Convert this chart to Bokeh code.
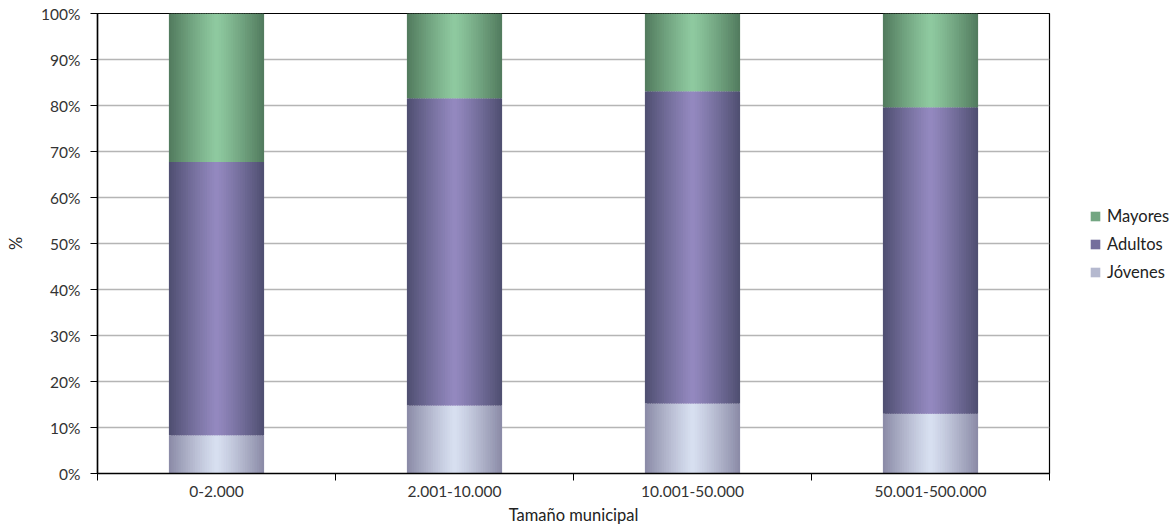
from bokeh.plotting import figure
from bokeh.layouts import row
from bokeh.models import (ColumnDataSource, FixedTicker, PrintfTickFormatter, Legend, LegendItem, Range1d)
from bokeh.embed import file_html
from bokeh.resources import INLINE

categories = ["0-2.000", "2.001-10.000", "10.001-50.000", "50.001-500.000"]
series_names = ["Jóvenes", "Adultos", "Mayores"]
jovenes = [8.3, 14.8, 15.2, 13.0]
adultos = [59.4, 66.8, 67.9, 66.6]
mayores = [32.3, 18.4, 16.9, 20.4]
y_ticks = [0, 10, 20, 30, 40, 50, 60, 70, 80, 90, 100]

FONT = "Lato"

# gradient colours: (edge, centre)
grad = {
    "Jóvenes": ("#8a8aa6", "#d8e0f1"),
    "Adultos": ("#4e4e70", "#9489c0"),
    "Mayores": ("#517a5d", "#8fcaa0"),
}

def hex2rgb(h):
    h = h.lstrip("#")
    return [int(h[i:i + 2], 16) for i in (0, 2, 4)]

def mix(a, b, s):
    ca, cb = hex2rgb(a), hex2rgb(b)
    return "#%02x%02x%02x" % tuple(int(round(ca[k] + (cb[k] - ca[k]) * s)) for k in range(3))

p = figure(frame_width=952, frame_height=460, output_backend="svg", toolbar_location=None,
           x_range=Range1d(-0.5, 3.5), y_range=Range1d(0, 100),
           min_border_left=97, min_border_top=13, min_border_bottom=58, min_border_right=2)

bar_w = 0.4
N = 40
step = bar_w / N
xs = list(range(len(categories)))

data = {"Jóvenes": jovenes, "Adultos": adultos, "Mayores": mayores}
bottoms = [0.0] * len(categories)
for name in series_names:
    vals = data[name]
    tops = [b + v for b, v in zip(bottoms, vals)]
    sx, sw, sb, st, sc = [], [], [], [], []
    edge, centre = grad[name]
    for ci, xc in enumerate(xs):
        left = xc - bar_w / 2
        for i in range(N):
            t = (i + 0.5) / N
            s = 1 - abs(2 * t - 1) ** 1.15
            l = left + i * step
            r = l + step + (step * 0.6 if i < N - 1 else 0)
            sx.append((l + r) / 2)
            sw.append(r - l)
            sb.append(bottoms[ci])
            st.append(tops[ci])
            sc.append(mix(edge, centre, s))
    src = ColumnDataSource(dict(x=sx, w=sw, b=sb, t=st, c=sc))
    p.vbar(x="x", width="w", bottom="b", top="t", fill_color="c", line_color=None, source=src)
    bottoms = tops

# axes
p.xaxis.ticker = FixedTicker(ticks=xs, minor_ticks=[-0.5, 0.5, 1.5, 2.5, 3.5])
p.xaxis.major_label_overrides = {i: c for i, c in enumerate(categories)}
p.xaxis.major_tick_line_color = None
p.xaxis.minor_tick_out = 7
p.xaxis.minor_tick_in = 0
p.xaxis.minor_tick_line_color = "black"
p.xaxis.axis_label = "Tamaño municipal"

p.yaxis.ticker = FixedTicker(ticks=y_ticks)
p.yaxis.formatter = PrintfTickFormatter(format="%d%%")
p.yaxis.major_tick_out = 7
p.yaxis.major_tick_in = 0
p.yaxis.minor_tick_line_color = None
p.yaxis.axis_label = "%"

for ax in (p.xaxis[0], p.yaxis[0]):
    ax.axis_line_color = "black"
    ax.axis_line_width = 1.5
    ax.major_label_text_font = FONT
    ax.major_label_text_font_size = "15.5px"
    ax.major_label_text_color = "#333333"
    ax.axis_label_text_font = FONT
    ax.axis_label_text_font_size = "16.5px"
    ax.axis_label_text_font_style = "normal"
    ax.axis_label_text_color = "#222222"

p.yaxis.major_label_standoff = 10
p.yaxis.axis_label_standoff = 12
p.xaxis.major_label_standoff = 5
p.xaxis.axis_label_standoff = 5

p.xgrid.grid_line_color = None
p.ygrid.ticker = FixedTicker(ticks=y_ticks)
p.ygrid.grid_line_color = "#b5b5b5"
p.ygrid.grid_line_width = 1.5
p.outline_line_color = "black"
p.outline_line_width = 1.2

# legend panel
lf = figure(width=125, height=531, output_backend="svg", toolbar_location=None,
            x_range=Range1d(0, 1), y_range=Range1d(0, 1), min_border=0,
            x_axis_location=None, y_axis_location=None)
lf.grid.visible = False
lf.outline_line_color = None
proxies = {}
for name in series_names:
    edge, centre = grad[name]
    proxies[name] = lf.quad(left=[-10], right=[-9], bottom=[-10], top=[-9],
                            fill_color=mix(edge, centre, 0.55), line_color=None)
legend = Legend(items=[LegendItem(label=n, renderers=[proxies[n]]) for n in reversed(series_names)],
                location=(38, 191), border_line_color=None, background_fill_alpha=0,
                padding=0, margin=0, spacing=8, glyph_width=12, glyph_height=12,
                label_standoff=6, label_text_font=FONT, label_text_font_size="16.5px",
                label_text_color="#222222", label_height=20)
lf.add_layout(legend, "center")

open("out.html", "w").write(file_html(row(p, lf), INLINE))
